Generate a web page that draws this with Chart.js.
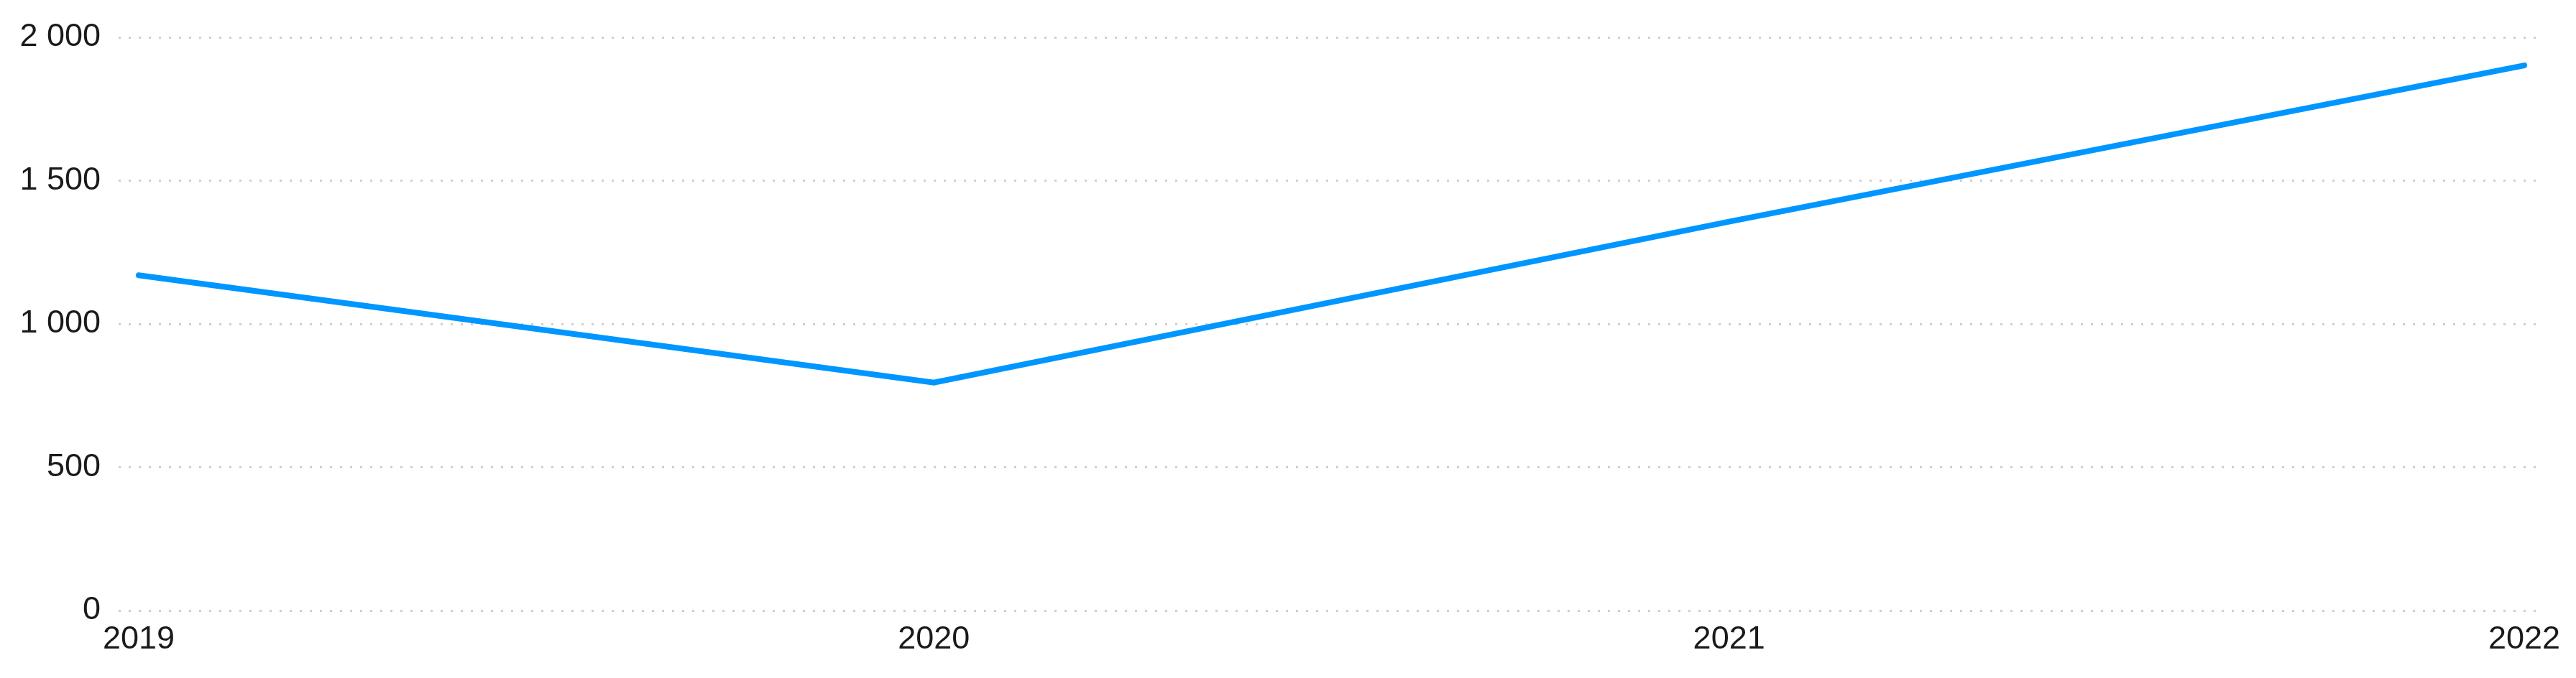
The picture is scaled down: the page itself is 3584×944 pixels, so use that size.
<!DOCTYPE html>
<html>
<head>
<meta charset="utf-8">
<style>
  html, body { margin: 0; padding: 0; background: #fff; }
  #wrap { width: 3584px; height: 944px; }
</style>
<script src="https://cdn.jsdelivr.net/npm/chart.js@4"></script>
</head>
<body>
<div id="wrap"><canvas id="lineChart"></canvas></div>
<script>
// chart data
const years = [2019, 2020, 2021, 2022];
const values = [1170, 795, 1357, 1902];
const yTicks = [0, 500, 1000, 1500, 2000];

// "2 000" style thousands
function fmt(v) {
  return String(v).replace(/\B(?=(\d{3})+(?!\d))/g, ' ');
}

const ctx = document.getElementById('lineChart').getContext('2d');
new Chart(ctx, {
  type: 'line',
  data: {
    datasets: [{
      data: years.map((y, i) => ({ x: y, y: values[i] })),
      borderColor: '#0096ff',
      borderWidth: 8,
      borderCapStyle: 'round',
      borderJoinStyle: 'miter',
      pointRadius: 0,
      tension: 0,
      fill: false
    }]
  },
  options: {
    responsive: true,
    maintainAspectRatio: false,
    animation: false,
    layout: { padding: { top: 51, right: 47, bottom: 0, left: 0 } },
    plugins: {
      legend: { display: false },
      tooltip: { enabled: false }
    },
    scales: {
      x: {
        type: 'linear',
        min: 2018.9747,
        max: 2022.0226,
        grid: { display: false },
        border: { display: false },
        ticks: {
          stepSize: 1,
          includeBounds: false,
          maxRotation: 0,
          padding: 6,
          color: '#1a1a1a',
          font: { family: 'Liberation Sans, Arial, sans-serif', size: 45 },
          callback: v => Number.isInteger(v) ? String(v) : null
        },
        afterFit: s => { s.height = 94; }
      },
      y: {
        min: 0,
        max: 2000,
        afterBuildTicks: s => { s.ticks = yTicks.map(v => ({ value: v })); },
        grid: {
          color: '#cfcfcf',
          lineWidth: 3,
          drawTicks: false
        },
        border: { display: false, dash: [3, 11] },
        ticks: {
          padding: 25,
          color: '#1a1a1a',
          font: { family: 'Liberation Sans, Arial, sans-serif', size: 45 },
          callback: v => fmt(v)
        },
        afterFit: s => { s.width = 165; }
      }
    }
  }
});
</script>
</body>
</html>
